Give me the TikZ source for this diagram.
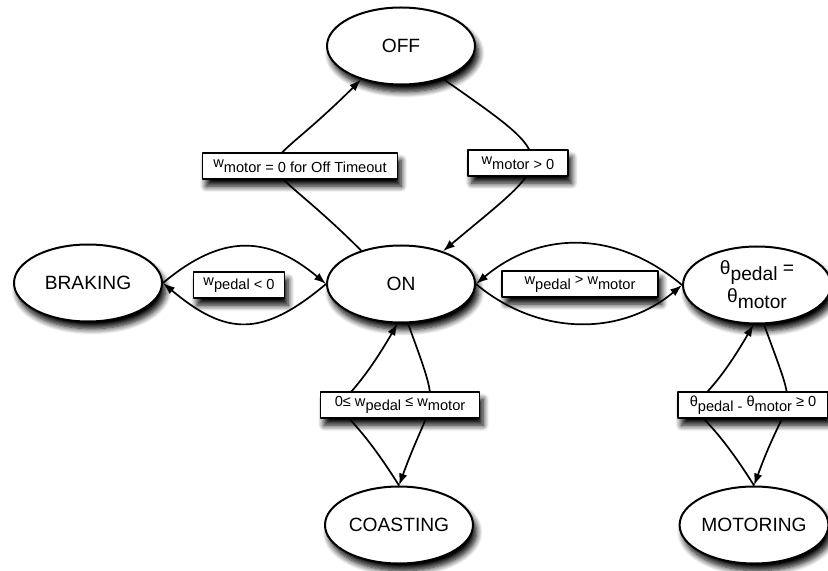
\documentclass[tikz,border=0pt]{standalone}
\usepackage{fontspec}
\setmainfont{Liberation Sans}
\usetikzlibrary{arrows.meta,shapes.geometric,shadows.blur}
\newcommand\lo[1]{\raisebox{-0.6ex}{#1}}
\begin{document}
\begin{tikzpicture}[x=0.5pt,y=0.5pt,>={Latex[length=6pt,width=4.2pt]}, font=\fontsize{9.6}{11.5}\selectfont, line join=round, line cap=round,
	shade/.style={blur shadow={shadow xshift=1.8pt,shadow yshift=-3.6pt,shadow blur steps=8,shadow blur radius=3pt,shadow opacity=100}},
	state/.style={ellipse,draw,line width=1pt,fill=white,minimum width=74pt,minimum height=38.5pt,inner sep=0pt,shade},
	cond/.style={rectangle,draw,line width=0.7pt,fill=white,minimum height=13pt,inner sep=1pt,font=\fontsize{7.3}{8.5}\selectfont,shade},
	trans/.style={->,line width=0.85pt}]
	\useasboundingbox (0,0) rectangle (828,-571);
	% states
	\node[state] (off) at (401,-46) {OFF};
	\node[state] (on) at (401,-284) {ON};
	\node[state] (brake) at (88,-283) {BRAKING};
	\node[state,align=center] (theta) at (757,-285) {θ\lo{pedal} =\\[1pt]θ\lo{motor}};
	\node[state] (coast) at (399,-525) {COASTING};
	\node[state] (motor) at (754,-525) {MOTORING};
	% transitions
	\draw[trans] (on.140) to[out=135,in=225,looseness=2.4] (off.220);
	\draw[trans] (off.322) to[out=-35,in=40,looseness=2.2] (on.38);
	\draw[trans] (brake.east) to[out=40,in=140,looseness=1.2] (on.west);
	\draw[trans] (on.west) to[out=-140,in=-40,looseness=1.3] (brake.east);
	\draw[trans] (theta.west) to[out=140,in=40,looseness=1.05] (on.east);
	\draw[trans] (on.east) to[out=-40,in=-140,looseness=1] (theta.west);
	\draw[trans] (coast.north) to[out=122,in=240,looseness=2.3] (on.265);
	\draw[trans] (on.280) to[out=-70,in=70,looseness=1.6] (coast.north);
	\draw[trans] (motor.north) to[out=122,in=240,looseness=2.4] (theta.265);
	\draw[trans] (theta.280) to[out=-70,in=70,looseness=1.7] (motor.north);
	% conditions
	\node[cond,minimum width=97.5pt] (ltimeout) at (300,-166) {w\lo{motor = 0 for Off Timeout}};
	\node[cond,minimum width=50pt] (lstart) at (518,-163) {w\lo{motor > 0}};
	\node[cond,minimum width=45.5pt] (lbrake) at (239,-285) {w\lo{pedal < 0}};
	\node[cond,minimum width=78pt] (lmatch) at (580,-284) {w\lo{pedal} > w\lo{motor}};
	\node[cond,minimum width=79.5pt] (lcoast) at (400,-405) {0≤ w\lo{pedal} ≤ w\lo{motor}};
	\node[cond,minimum width=75pt] (lmotor) at (753,-405) {θ\lo{pedal - }θ\lo{motor} ≥ 0};
\end{tikzpicture}
\end{document}
